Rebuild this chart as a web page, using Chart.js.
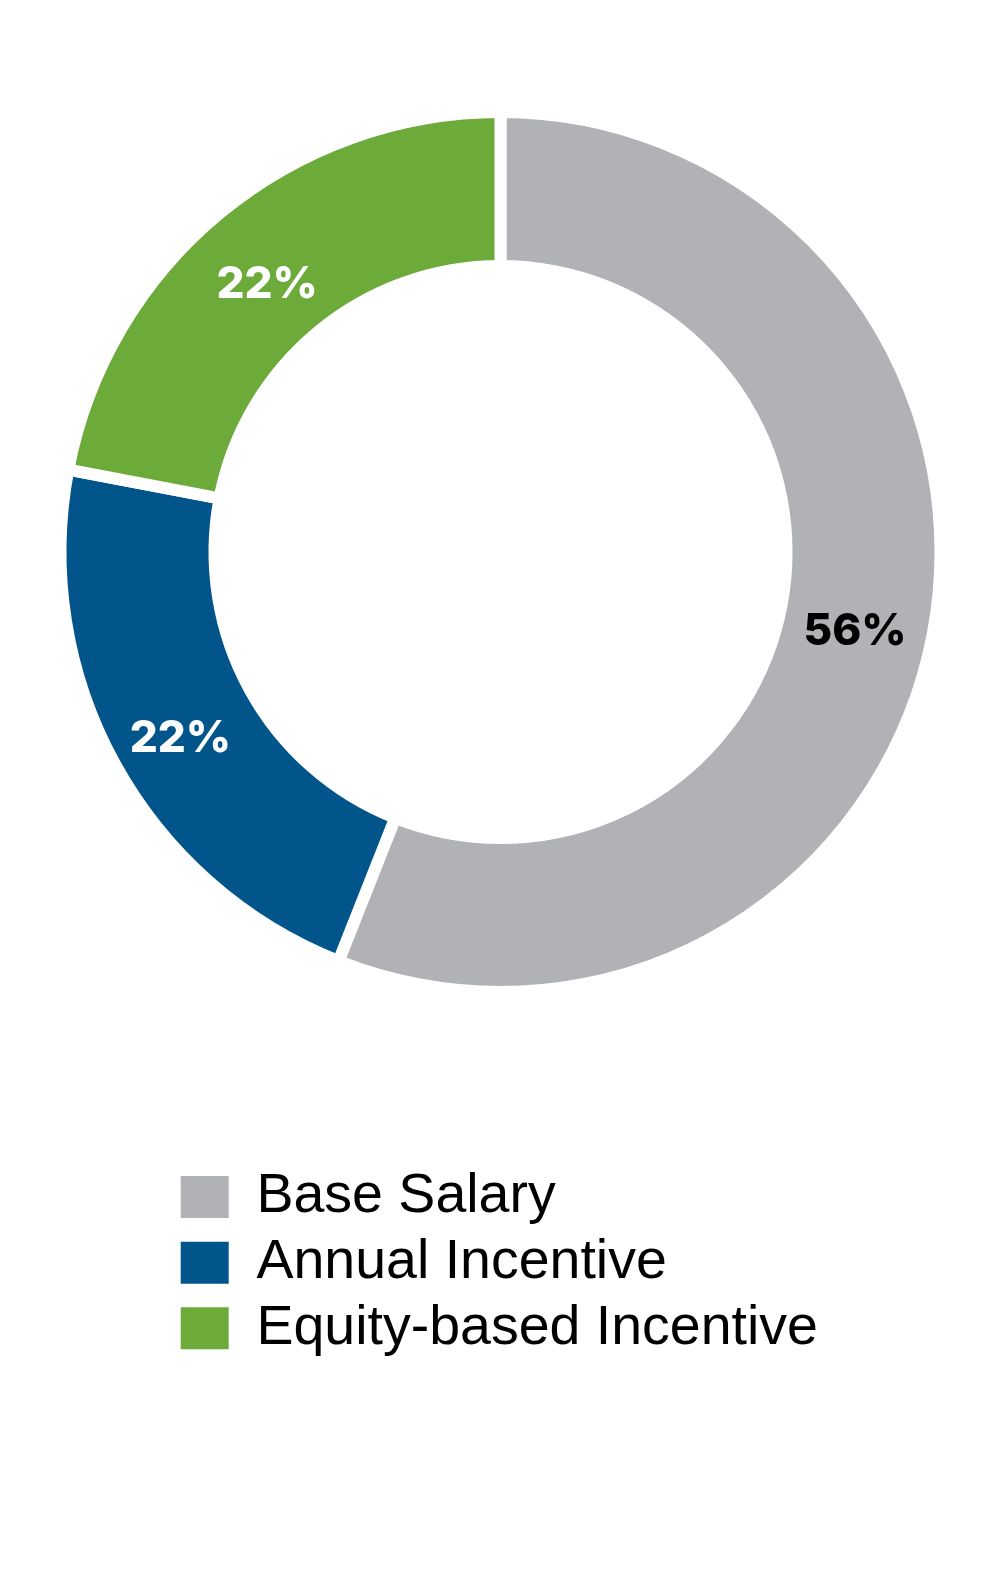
<!DOCTYPE html>
<html>
<head>
<meta charset="utf-8">
<script src="https://cdn.jsdelivr.net/npm/chart.js@4.4.1/dist/chart.umd.min.js"></script>
<style>
  html, body { margin: 0; padding: 0; background: #ffffff; overflow: hidden; }
  body { width: 1002px; height: 1584px; position: relative; }
  #donut { position: absolute; left: 0; top: 0; }
  #legendChart { position: absolute; left: 0; top: 1159px; }
</style>
</head>
<body>
<canvas id="donut" width="1002" height="998"></canvas>
<canvas id="legendChart" width="1002" height="425"></canvas>
<script>
const categories = ['Base Salary', 'Annual Incentive', 'Equity-based Incentive'];
const values = [56, 22, 22];
const valueLabels = ['56%', '22%', '22%'];
const colors = ['#b1b2b6', '#02558b', '#6cab3a'];
const labelColors = ['#000000', '#ffffff', '#ffffff'];

const pctLabelPlugin = {
  id: 'pctLabels',
  afterDatasetsDraw(chart) {
    const ctx = chart.ctx;
    const meta = chart.getDatasetMeta(0);
    ctx.save();
    ctx.font = '800 44px Inter';
    ctx.textAlign = 'center';
    ctx.textBaseline = 'middle';
    meta.data.forEach((arc, i) => {
      const p = arc.tooltipPosition();
      ctx.fillStyle = labelColors[i];
      ctx.fillText(valueLabels[i], p.x - 2, p.y + 12);
    });
    ctx.restore();
  }
};

new Chart(document.getElementById('donut'), {
  type: 'doughnut',
  data: {
    labels: categories,
    datasets: [{
      data: values,
      backgroundColor: colors,
      borderColor: '#ffffff',
      borderWidth: 12,
      hoverBorderWidth: 12,
      hoverOffset: 0,
      borderAlign: 'center'
    }]
  },
  options: {
    responsive: false,
    animation: false,
    devicePixelRatio: 1,
    cutout: '65%',
    layout: { padding: { top: 106, left: 0, right: 1, bottom: 0 } },
    plugins: {
      legend: { display: false },
      tooltip: { enabled: false }
    }
  },
  plugins: [pctLabelPlugin]
});

new Chart(document.getElementById('legendChart'), {
  type: 'doughnut',
  data: {
    labels: categories,
    datasets: [{
      data: values,
      backgroundColor: colors,
      borderWidth: 0,
      hoverOffset: 0
    }]
  },
  options: {
    responsive: false,
    animation: false,
    devicePixelRatio: 1,
    radius: 0,
    layout: { padding: { top: 0, left: 170.5, right: 132, bottom: 0 } },
    plugins: {
      tooltip: { enabled: false },
      legend: {
        display: true,
        position: 'top',
        align: 'start',
        labels: {
          boxWidth: 48,
          boxHeight: 42,
          padding: 10.2,
          color: '#000000',
          font: { family: "'Liberation Sans', Arial, sans-serif", size: 55.5, weight: 'normal' }
        }
      }
    }
  }
});
</script>
</body>
</html>
